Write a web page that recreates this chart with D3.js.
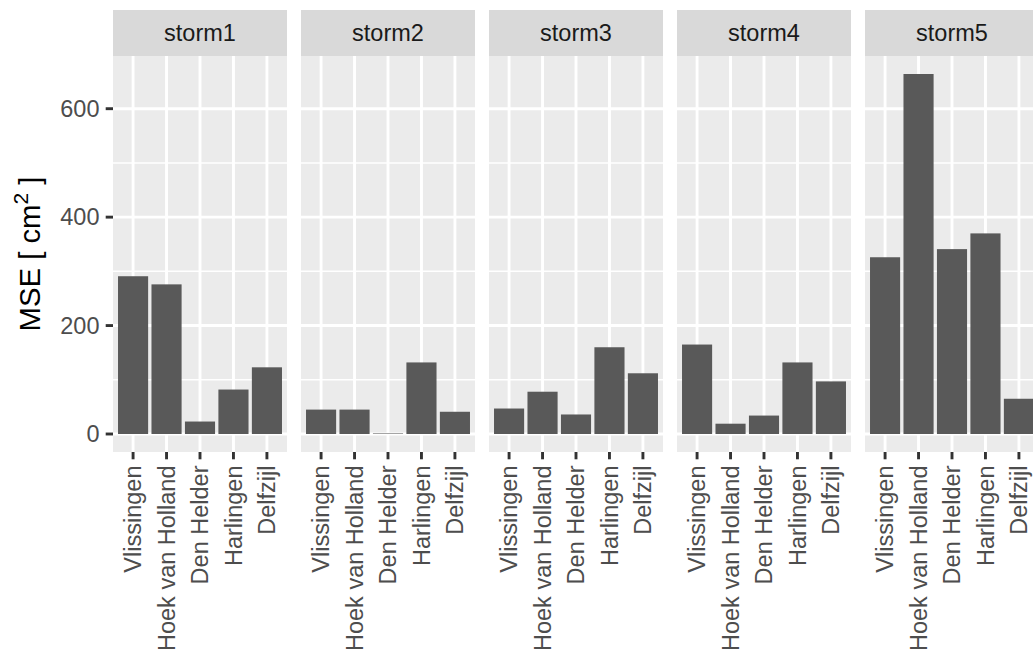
<!DOCTYPE html>
<html>
<head>
<meta charset="utf-8">
<script src="https://cdn.jsdelivr.net/npm/d3@7"></script>
<style>
  html, body { margin: 0; padding: 0; background: #fff; overflow: hidden; }
  svg { display: block; font-family: "Liberation Sans", Arial, sans-serif; }
</style>
</head>
<body>
<svg id="chart" width="1033" height="657"></svg>
<script>
const storms = ["storm1", "storm2", "storm3", "storm4", "storm5"];
const stations = ["Vlissingen", "Hoek van Holland", "Den Helder", "Harlingen", "Delfzijl"];
const storm1 = [291, 276, 23, 82, 123];
const storm2 = [45, 45, 1, 132, 41];
const storm3 = [47, 78, 36, 160, 112];
const storm4 = [165, 19, 34, 132, 97];
const storm5 = [326, 664, 341, 370, 65];
const seriesValues = [storm1, storm2, storm3, storm4, storm5];
const yTicks = [0, 200, 400, 600];
const yMinor = [100, 300, 500];

const svg = d3.select("#chart");
const W = 1033, H = 657;

const panelLeft = 113, panelW = 174, gap = 14;
const stripTop = 10, stripBottom = 56, panelBottom = 452;

const maxV = d3.max(seriesValues.flat());
const y = d3.scaleLinear()
  .domain([-0.05 * maxV, 1.05 * maxV])
  .range([panelBottom, stripBottom]);

const panelX = d3.scaleBand().domain(storms).range([panelLeft, panelLeft + 5 * panelW + 4 * gap]).paddingInner(gap / (panelW + gap)).paddingOuter(0);

storms.forEach((s, i) => {
  const x0 = panelX(s);
  const g = svg.append("g").attr("transform", `translate(${x0},0)`);
  const x = d3.scaleBand().domain(stations).range([0, panelX.bandwidth()]).paddingInner(0.1).paddingOuter(0.15);
  const pw = panelX.bandwidth();

  // strip
  g.append("rect").attr("x", 0).attr("y", stripTop).attr("width", pw).attr("height", stripBottom - stripTop).attr("fill", "#d9d9d9");
  g.append("text").attr("x", pw / 2).attr("y", (stripTop + stripBottom) / 2).attr("dy", "0.35em")
    .attr("text-anchor", "middle").attr("font-size", 23.5).attr("fill", "#1a1a1a").text(s);

  // panel bg
  g.append("rect").attr("x", 0).attr("y", stripBottom).attr("width", pw).attr("height", panelBottom - stripBottom).attr("fill", "#ebebeb");

  // minor gridlines
  g.selectAll(".ymin").data(yMinor).enter().append("line")
    .attr("x1", 0).attr("x2", pw).attr("y1", d => y(d)).attr("y2", d => y(d))
    .attr("stroke", "#fff").attr("stroke-width", 1.45);
  // major gridlines
  g.selectAll(".ymaj").data(yTicks).enter().append("line")
    .attr("x1", 0).attr("x2", pw).attr("y1", d => y(d)).attr("y2", d => y(d))
    .attr("stroke", "#fff").attr("stroke-width", 2.9);
  g.selectAll(".xmaj").data(stations).enter().append("line")
    .attr("x1", d => x(d) + x.bandwidth() / 2).attr("x2", d => x(d) + x.bandwidth() / 2)
    .attr("y1", stripBottom).attr("y2", panelBottom)
    .attr("stroke", "#fff").attr("stroke-width", 2.9);

  // bars
  const vals = seriesValues[i];
  g.selectAll(".bar").data(stations).enter().append("rect")
    .attr("x", d => x(d)).attr("width", x.bandwidth())
    .attr("y", (d, j) => y(vals[j])).attr("height", (d, j) => y(0) - y(vals[j]))
    .attr("fill", "#595959");

  // x axis ticks & labels
  const xa = g.append("g");
  stations.forEach(st => {
    const cx = x(st) + x.bandwidth() / 2;
    xa.append("line").attr("x1", cx).attr("x2", cx).attr("y1", panelBottom).attr("y2", panelBottom + 7.3)
      .attr("stroke", "#333333").attr("stroke-width", 2.9);
    xa.append("text")
      .attr("transform", `translate(${cx},${panelBottom + 13.5}) rotate(-90)`)
      .attr("text-anchor", "end").attr("dy", "0.35em")
      .attr("font-size", 23.5).attr("fill", "#4d4d4d").text(st);
  });

  if (i === 0) {
    yTicks.forEach(t => {
      g.append("line").attr("x1", -7.3).attr("x2", 0).attr("y1", y(t)).attr("y2", y(t))
        .attr("stroke", "#333333").attr("stroke-width", 2.9);
      g.append("text").attr("x", -13.5).attr("y", y(t)).attr("dy", "0.35em")
        .attr("text-anchor", "end").attr("font-size", 23.5).attr("fill", "#4d4d4d").text(t);
    });
  }
});

// y axis title
const yt = svg.append("text")
  .attr("transform", `translate(40,${(stripBottom + panelBottom) / 2}) rotate(-90)`)
  .attr("text-anchor", "middle").attr("font-size", 29.3).attr("fill", "#000");
yt.append("tspan").text("MSE [ cm");
yt.append("tspan").attr("dy", -12).attr("font-size", 21).text("2");
yt.append("tspan").attr("dy", 12).text(" ]");
</script>
</body>
</html>
